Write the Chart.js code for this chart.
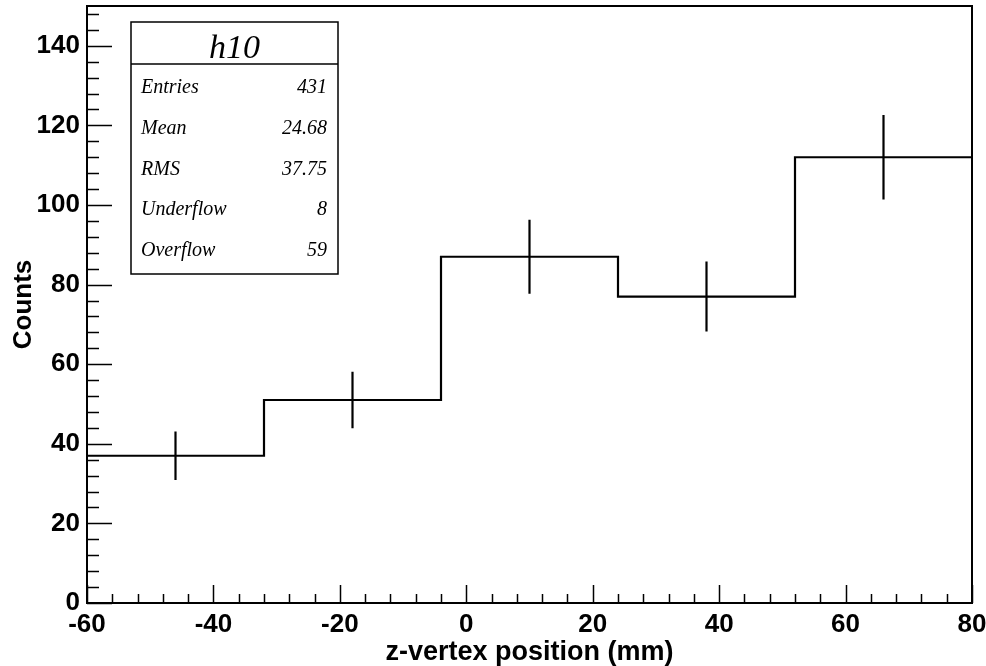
<!DOCTYPE html>
<html>
<head>
<meta charset="utf-8">
<script src="https://cdn.jsdelivr.net/npm/chart.js@4/dist/chart.umd.min.js"></script>
<style>
  html, body { margin: 0; padding: 0; background: #fff; }
  #wrap { width: 986px; height: 666px; }
</style>
</head>
<body>
<div id="wrap"><canvas id="c" width="986" height="666"></canvas></div>
<script>
// Histogram h10: z-vertex position, 5 bins of 28 mm from -60 to 80
const binEdges = [-60, -32, -4, 24, 52, 80];
const binCenters = [-46, -18, 10, 38, 66];
const counts = [37, 51, 87, 77, 112];
const errors = [6.1, 7.1, 9.3, 8.8, 10.6];

const xTicks = [-60, -40, -20, 0, 20, 40, 60, 80];
const yTicks = [0, 20, 40, 60, 80, 100, 120, 140];

const statsTitle = 'h10';
const statsLabels = ['Entries', 'Mean', 'RMS', 'Underflow', 'Overflow'];
const statsValues = ['431', '24.68', '37.75', '8', '59'];

// step outline: one point per bin left edge plus the closing right edge
const stepPoints = counts.map((v, i) => ({ x: binEdges[i], y: v }));
stepPoints.push({ x: binEdges[binEdges.length - 1], y: counts[counts.length - 1] });

// vertical error bars, separated by gaps
const errPoints = [];
counts.forEach((v, i) => {
  errPoints.push({ x: binCenters[i], y: v - errors[i] });
  errPoints.push({ x: binCenters[i], y: v + errors[i] });
  errPoints.push({ x: binCenters[i], y: null });
});

const SANS = '"Liberation Sans", Arial, Helvetica, sans-serif';
const SERIF = '"Liberation Serif", "Times New Roman", serif';

// frame, inner major/minor ticks and the statistics box
const framePlugin = {
  id: 'rootFrame',
  afterDatasetsDraw(chart) {
    const ctx = chart.ctx;
    const a = chart.chartArea;
    const xs = chart.scales.x, ys = chart.scales.y;
    ctx.save();
    ctx.strokeStyle = '#000';
    ctx.lineWidth = 2;
    ctx.strokeRect(a.left, a.top, a.right - a.left, a.bottom - a.top);

    ctx.lineWidth = 1.5;
    ctx.beginPath();
    for (let v = xs.min; v <= xs.max + 1e-9; v += 4) {
      const px = Math.round(xs.getPixelForValue(v)) + 0.5;
      const len = (Math.abs(v % 20) < 1e-9) ? 18 : 9;
      ctx.moveTo(px, a.bottom);
      ctx.lineTo(px, a.bottom - len);
    }
    for (let v = ys.min; v <= ys.max + 1e-9; v += 4) {
      const py = Math.round(ys.getPixelForValue(v)) + 0.5;
      const len = (Math.abs(v % 20) < 1e-9) ? 25 : 12;
      ctx.moveTo(a.left, py);
      ctx.lineTo(a.left + len, py);
    }
    ctx.stroke();

    // statistics box
    const bx = 131, by = 22, bw = 207, bh = 252, hh = 42;
    ctx.fillStyle = '#fff';
    ctx.fillRect(bx, by, bw, bh);
    ctx.lineWidth = 1.5;
    ctx.strokeRect(bx, by, bw, bh);
    ctx.beginPath();
    ctx.moveTo(bx, by + hh);
    ctx.lineTo(bx + bw, by + hh);
    ctx.stroke();

    ctx.fillStyle = '#000';
    ctx.textBaseline = 'alphabetic';
    ctx.textAlign = 'center';
    ctx.font = 'italic 34px ' + SERIF;
    ctx.fillText(statsTitle, bx + bw / 2, by + 36);

    ctx.font = 'italic 20px ' + SERIF;
    ctx.textBaseline = 'middle';
    statsLabels.forEach((lab, i) => {
      const cy = by + 66 + 40.7 * i;
      ctx.textAlign = 'left';
      ctx.fillText(lab, bx + 10, cy);
      ctx.textAlign = 'right';
      ctx.fillText(statsValues[i], bx + bw - 11, cy);
    });
    ctx.restore();
  }
};

new Chart(document.getElementById('c'), {
  type: 'line',
  data: {
    datasets: [
      {
        data: stepPoints,
        stepped: 'before',
        borderColor: '#000',
        borderWidth: 2.2,
        pointRadius: 0,
        fill: false
      },
      {
        data: errPoints,
        borderColor: '#000',
        borderWidth: 2.2,
        pointRadius: 0,
        spanGaps: false,
        fill: false
      }
    ]
  },
  options: {
    responsive: false,
    animation: false,
    layout: { padding: { top: 6, right: 14, left: 0, bottom: 0 } },
    plugins: { legend: { display: false }, tooltip: { enabled: false } },
    scales: {
      x: {
        type: 'linear',
        min: -60, max: 80,
        afterBuildTicks: s => { s.ticks = xTicks.map(v => ({ value: v })); },
        afterFit: s => { s.height = 63; s.paddingLeft = 0; s.paddingRight = 0; },
        grid: { display: false, drawTicks: false },
        border: { display: false },
        ticks: {
          padding: 6,
          color: '#000',
          maxRotation: 0,
          autoSkip: false,
          font: { family: SANS, size: 26, weight: 'bold' }
        },
        title: {
          display: true,
          text: 'z-vertex position (mm)',
          color: '#000',
          font: { family: SANS, size: 27, weight: 'bold' },
          padding: { top: 0, bottom: -3 }
        }
      },
      y: {
        type: 'linear',
        min: 0, max: 150,
        afterBuildTicks: s => { s.ticks = yTicks.map(v => ({ value: v })); },
        afterFit: s => { s.width = 87; s.paddingTop = 0; s.paddingBottom = 0; },
        grid: { display: false, drawTicks: false },
        border: { display: false },
        ticks: {
          padding: 7,
          color: '#000',
          autoSkip: false,
          font: { family: SANS, size: 26, weight: 'bold' }
        },
        title: {
          display: true,
          text: 'Counts',
          color: '#000',
          font: { family: SANS, size: 26, weight: 'bold' },
          padding: { top: 8, bottom: 0 }
        }
      }
    }
  },
  plugins: [framePlugin]
});
</script>
</body>
</html>
